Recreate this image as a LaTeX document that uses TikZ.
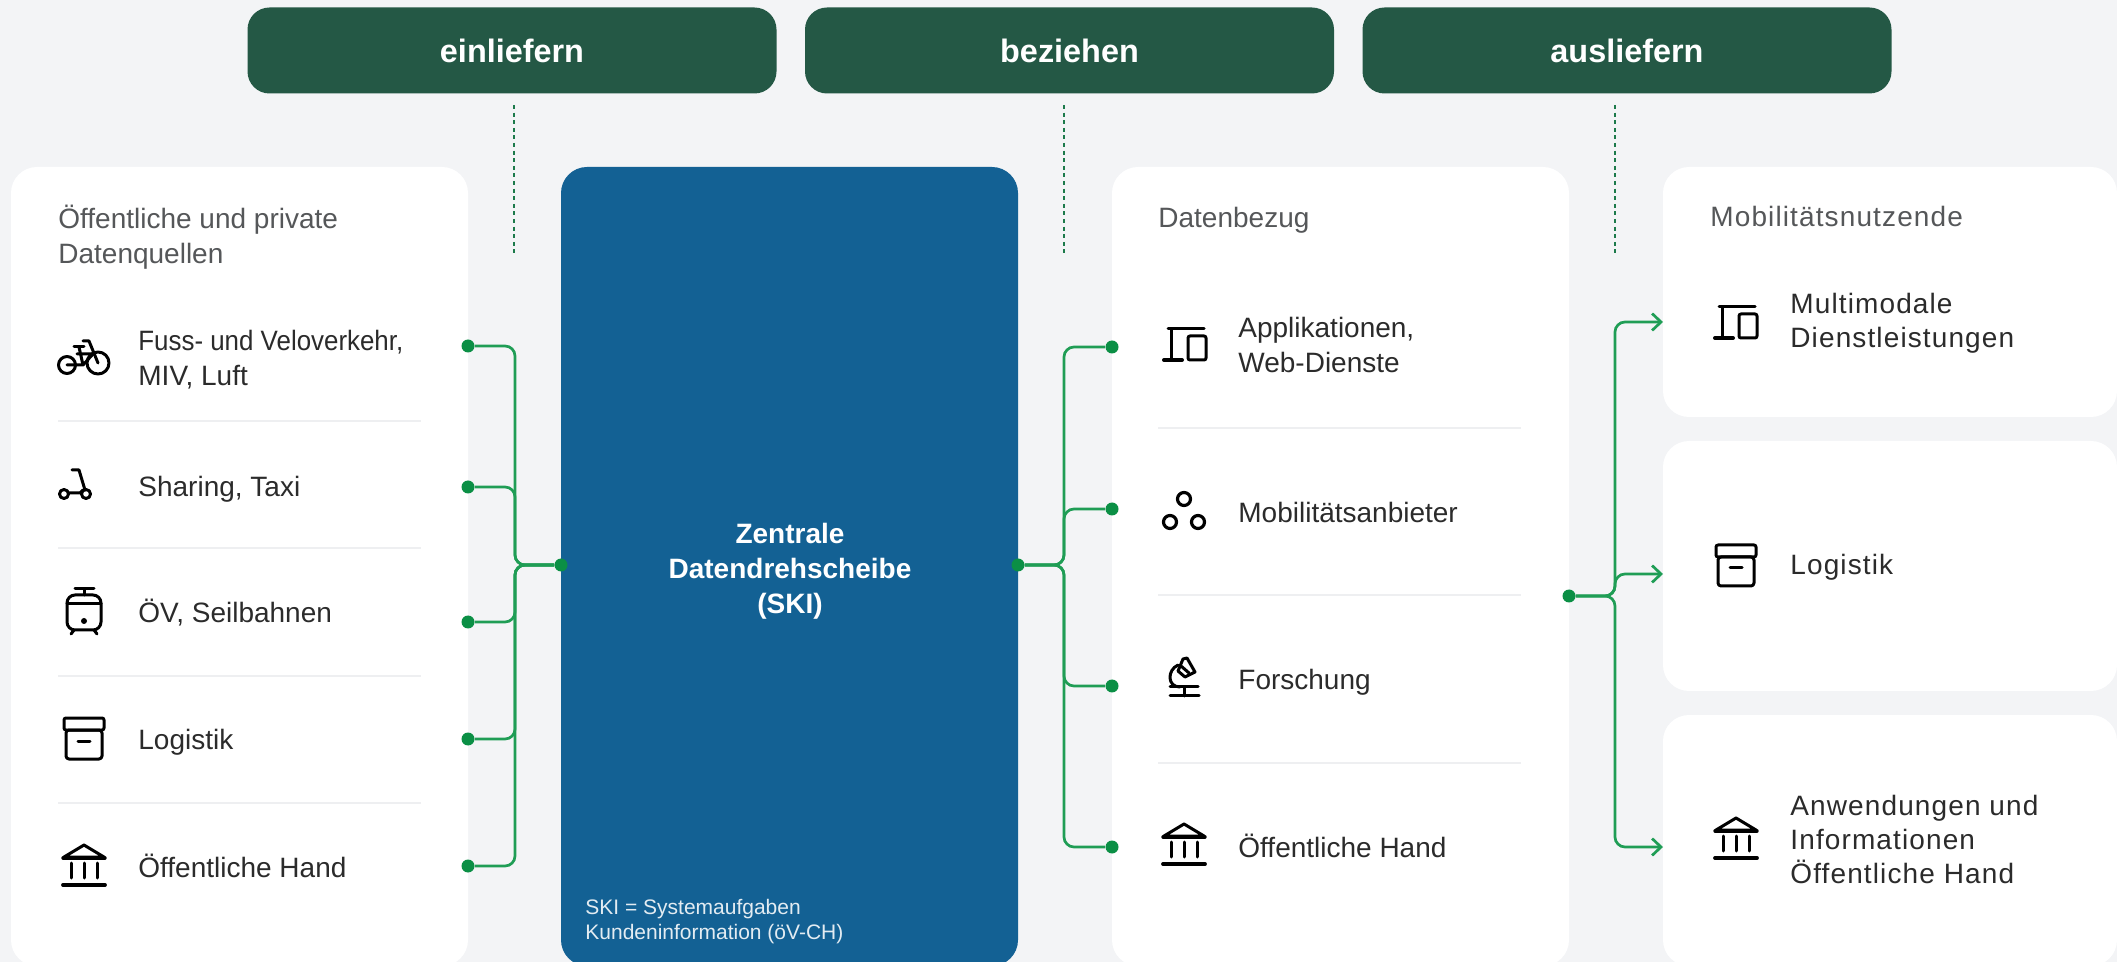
\documentclass[tikz,border=0pt]{standalone}
\usepackage{fontspec}
\setmainfont{Liberation Sans}
\newfontfamily\trackfont[LetterSpace=4]{Liberation Sans}
\usetikzlibrary{arrows.meta}
\definecolor{pagebg}{HTML}{F3F4F6}
\definecolor{btn}{HTML}{245845}
\definecolor{hubblue}{HTML}{136194}
\definecolor{linkgreen}{HTML}{1F9D55}
\definecolor{dotgreen}{HTML}{0B8F45}
\definecolor{dashgreen}{HTML}{1C7A4B}
\definecolor{rulegrey}{HTML}{EEEFF1}
\definecolor{headgrey}{HTML}{555759}
\definecolor{itemgrey}{HTML}{2B2B2B}
\tikzset{
  x=0.5pt,y=-0.5pt,
  card/.style={fill=white,draw=none,rounded corners=13pt},
  button/.style={fill=btn,text=white,rounded corners=11pt,minimum width=264.5pt,minimum height=43pt,inner sep=0pt,font=\fontsize{16.2}{20}\selectfont\bfseries},
  head/.style={anchor=west,inner sep=0pt,align=left,text=headgrey,font=\fontsize{14}{17.5}\selectfont},
  item/.style={anchor=west,inner sep=0pt,align=left,text=itemgrey,font=\fontsize{14}{17.5}\selectfont},
  headr/.style={anchor=west,inner sep=0pt,align=left,text=headgrey,font=\fontsize{14}{17.5}\selectfont\trackfont},
  itemr/.style={anchor=west,inner sep=0pt,align=left,text=itemgrey,font=\fontsize{14}{17}\selectfont\trackfont},
  divider/.style={rulegrey,line width=0.8pt},
  link/.style={linkgreen,line width=1.35pt,rounded corners=5pt},
  arrowlink/.style={link,-{Straight Barb[length=4.5pt,width=8.5pt,line width=1.35pt]}},
  dotnode/.style={circle,fill=dotgreen,minimum size=6.5pt,inner sep=0pt},
  dashlink/.style={dashgreen,line width=0.9pt,dash pattern=on 2pt off 1.8pt},
  ico/.style={draw=black,line width=1.5pt,line cap=round,line join=round},
  pics/bank/.style={code={
    \draw[ico] (-20,-8) -- (0,-20) -- (20,-8) -- cycle;
    \draw[ico,line width=1.7pt] (-21,-7) -- (21,-7);
    \draw[ico] (-13,-2) -- (-13,13) (0,-2) -- (0,13) (13,-2) -- (13,13);
    \draw[ico,line width=1.9pt] (-21,20) -- (21,20);
  }},
  pics/archive/.style={code={
    \draw[ico,rounded corners=1pt] (-20,-21) rectangle (20,-9);
    \draw[ico,rounded corners=1.5pt] (-18,-9) rectangle (18,20);
    \draw[ico] (-6,2) -- (6,2);
  }},
  pics/tram/.style={code={
    \draw[ico] (-9,-22) -- (10,-22) (0,-22) -- (0,-16);
    \draw[ico,rounded corners=4pt] (-17,0) -- (-17,-16) -- (17,-16) -- (17,19) -- (-17,19) -- (-17,0);
    \draw[ico] (-17,-7) -- (17,-7);
    \fill[black] (0,10) circle (3);
    \draw[ico] (-10,19) -- (-13,23) (10,19) -- (13,23);
  }},
  pics/scooter/.style={code={
    \draw[ico] (-11,11) circle (4.5) (11,11) circle (4.5);
    \draw[ico] (-6,10) -- (5,10) -- (8,7);
    \draw[ico] (10,7) -- (4,-13) -- (-3,-13);
  }},
  pics/bike/.style={code={
    \draw[ico] (-17,8) circle (8.5) (14,6) circle (11);
    \draw[ico] (-17,8) -- (-1,8) -- (9,-3) -- (-7,-3) (-1,8) -- (-5,-10);
    \draw[ico] (-10,-10) -- (0,-10);
    \draw[ico] (-1,-16) -- (5,-16) -- (14,6);
  }},
  pics/device/.style={code={
    \draw[ico] (-17,-16) -- (19,-16) (-14,-16) -- (-14,14);
    \draw[ico,line width=2pt] (-21,15) -- (-3,15);
    \draw[ico,rounded corners=1pt] (3,-9) rectangle (21,15);
  }},
  pics/rings/.style={code={
    \draw[ico,line width=1.6pt] (0,-12) circle (6.5) (-14,11) circle (6.5) (14,11) circle (6.5);
  }},
  pics/scope/.style={code={
    \draw[ico] (-14,18) -- (15,18) (-14,9) -- (14,9) (0,9) -- (0,18);
    \draw[ico] (-6,-13) .. controls (-17,-8) and (-17,9) .. (-4,9);
    \draw[ico] (-1,-19) -- (3,-20) -- (11,-6) -- (1,-1) -- (-6,-7) -- cycle;
    \draw[ico] (-3,-12) -- (5,-5);
  }},
}
\begin{document}
\begin{tikzpicture}
\clip (0,0) rectangle (2117,962);
\fill[pagebg] (0,0) rectangle (2117,962);
\useasboundingbox (0,0) rectangle (2117,962);

% cards
\fill[card] (11,167) rectangle (468,966);
\fill[card] (1112,167) rectangle (1569,966);
\fill[card] (1663,167) rectangle (2117,417);
\fill[card] (1663,441) rectangle (2117,691);
\fill[card] (1663,715) rectangle (2117,966);
\fill[hubblue,rounded corners=13pt] (561,167) rectangle (1018,966);

% top buttons
\node[button] (b1) at (512,50.5) {einliefern};
\node[button] (b2) at (1069.5,50.5) {beziehen};
\node[button] (b3) at (1627,50.5) {ausliefern};

% dashed lines
\coordinate (d1a) at (514,105); \coordinate (d1b) at (514,254);
\coordinate (d2a) at (1064,105); \coordinate (d2b) at (1064,254);
\coordinate (d3a) at (1615,105); \coordinate (d3b) at (1615,254);
\draw[dashlink] (d1a) -- (d1b);
\draw[dashlink] (d2a) -- (d2b);
\draw[dashlink] (d3a) -- (d3b);

% centre
\node[inner sep=0pt,align=center,text=white,font=\fontsize{14}{17.6}\selectfont\bfseries] (centre) at (790,571) {Zentrale\\Datendrehscheibe\\(SKI)};
\node[anchor=west,inner sep=0pt,align=left,text=white!88!hubblue,font=\fontsize{10.5}{12.5}\selectfont] (skinote) at (585,922) {SKI = Systemaufgaben\\Kundeninformation (öV-CH)};

% card 1 text
\node[head] (h1) at (58,237) {Öffentliche und private\\Datenquellen};
\node[item] (t11) at (138,360) {\scalebox{0.925}[1]{Fuss- und Veloverkehr,}\\MIV, Luft};
\node[item] (t12) at (138,489) {Sharing, Taxi};
\node[item] (t13) at (138,613) {ÖV, Seilbahnen};
\node[item] (t14) at (138,742) {Logistik};
\node[item] (t15) at (138,866) {Öffentliche Hand};
\draw[divider] (58,421) -- (421,421);
\draw[divider] (58,548) -- (421,548);
\draw[divider] (58,676) -- (421,676);
\draw[divider] (58,803) -- (421,803);
\pic at (84,357) {bike};
\pic at (75,483) {scooter};
\pic at (84,611) {tram};
\pic at (84,739) {archive};
\pic at (84,865) {bank};

% card 3 text
\node[head] (h3) at (1158,220) {Datenbezug};
\node[item] (t31) at (1238,345) {Applikationen,\\Web-Dienste};
\node[item] (t32) at (1238,512) {Mobilitätsanbieter};
\node[item] (t33) at (1238,682) {Forschung};
\node[item] (t34) at (1238,846) {Öffentliche Hand};
\draw[divider] (1158,428) -- (1521,428);
\draw[divider] (1158,595) -- (1521,595);
\draw[divider] (1158,763) -- (1521,763);
\pic at (1185,345) {device};
\pic at (1184,511) {rings};
\pic at (1184,678) {scope};
\pic at (1184,844) {bank};

% card 4 text
\node[headr] (h4) at (1710,216) {Mobilitätsnutzende};
\node[itemr] (t41) at (1790,323) {Multimodale\\Dienstleistungen};
\node[itemr] (t42) at (1790,567) {Logistik};
\node[itemr] (t43) at (1790,839) {Anwendungen und\\Informationen\\Öffentliche Hand};
\pic at (1736,323) {device};
\pic at (1736,566) {archive};
\pic at (1736,838) {bank};

% connectors: left
\coordinate (busL) at (515,565);
\node[dotnode] (hubL) at (561,565) {};
\node[dotnode] (s1) at (468,346) {};
\node[dotnode] (s2) at (468,487) {};
\node[dotnode] (s3) at (468,622) {};
\node[dotnode] (s4) at (468,739) {};
\node[dotnode] (s5) at (468,866) {};
\foreach \s in {s1,s2,s3,s4,s5}
  \draw[link] (\s.east) -- (\s -| busL) -- (busL) -- (hubL.west);

% connectors: middle
\coordinate (busM) at (1064,565);
\node[dotnode] (hubM) at (1018,565) {};
\node[dotnode] (m1) at (1112,347) {};
\node[dotnode] (m2) at (1112,509) {};
\node[dotnode] (m3) at (1112,686) {};
\node[dotnode] (m4) at (1112,847) {};
\foreach \s in {m1,m2,m3,m4}
  \draw[link] (hubM.east) -- (busM) -- (busM |- \s) -- (\s.west);

% connectors: right
\coordinate (busR) at (1615,596);
\node[dotnode] (hubR) at (1569,596) {};
\coordinate (a1) at (1663,322);
\coordinate (a2) at (1663,574);
\coordinate (a3) at (1663,847);
\foreach \s in {a1,a2,a3}
  \draw[arrowlink] (hubR.east) -- (busR) -- (busR |- \s) -- (\s);
\end{tikzpicture}
\end{document}
